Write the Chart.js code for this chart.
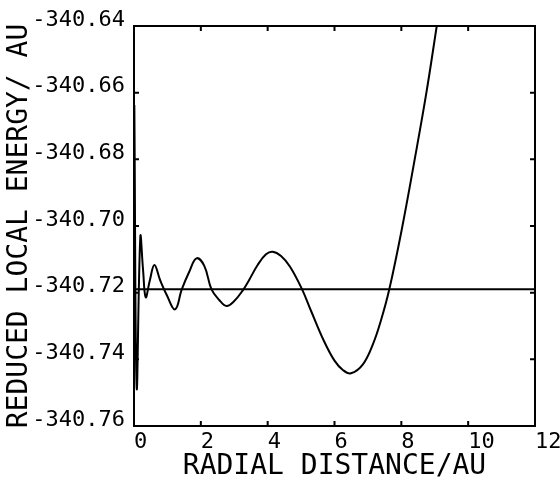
<!DOCTYPE html>
<html>
<head>
<meta charset="utf-8">
<script src="https://cdn.jsdelivr.net/npm/chart.js@4/dist/chart.umd.min.js"></script>
<style>
  html, body { margin: 0; padding: 0; background: #fff; }
  #wrap { width: 560px; height: 482px; }
</style>
</head>
<body>
<div id="wrap"><canvas id="c" width="560" height="482"></canvas></div>
<script>
// Data
const radialDistance = [0.01, 0.08, 0.19, 0.27, 0.35, 0.47, 0.61, 0.78, 0.98, 1.23, 1.43, 1.65, 1.87, 2.10, 2.32, 2.55, 2.77, 3.00, 3.25, 3.45, 3.70, 3.95, 4.15, 4.40, 4.67, 5.02, 5.30, 5.67, 6.00, 6.25, 6.49, 6.85, 7.16, 7.40, 7.64, 8.01, 8.40, 8.75, 9.06];
const localEnergy = [-340.6637, -340.7485, -340.7032, -340.7130, -340.7214, -340.7165, -340.7117, -340.7162, -340.7207, -340.7250, -340.7190, -340.7138, -340.7097, -340.7119, -340.7190, -340.7222, -340.7240, -340.7225, -340.7194, -340.7161, -340.7117, -340.7085, -340.7077, -340.7090, -340.7122, -340.7188, -340.7255, -340.7342, -340.7404, -340.7432, -340.7442, -340.7415, -340.7352, -340.7280, -340.7190, -340.7012, -340.6800, -340.6600, -340.6400];
const referenceX = [0, 12];
const referenceEnergy = [-340.719, -340.719];
const xTicks = [0, 2, 4, 6, 8, 10, 12];
const yTicks = [-340.76, -340.74, -340.72, -340.70, -340.68, -340.66, -340.64];

const curveData = radialDistance.map((x, i) => ({x: x, y: localEnergy[i]}));
const refData = referenceX.map((x, i) => ({x: x, y: referenceEnergy[i]}));

const FONT = "'DejaVu Sans Mono', monospace";

const framePlugin = {
  id: 'frame',
  afterDatasetsDraw(chart) {
    const {ctx, chartArea: a, scales} = chart;
    ctx.save();
    ctx.strokeStyle = '#000';
    ctx.lineWidth = 2;
    ctx.strokeRect(a.left, a.top, a.right - a.left, a.bottom - a.top);
    const len = 5;
    ctx.beginPath();
    xTicks.forEach(v => {
      const px = scales.x.getPixelForValue(v);
      ctx.moveTo(px, a.bottom); ctx.lineTo(px, a.bottom - len);
      ctx.moveTo(px, a.top); ctx.lineTo(px, a.top + len);
    });
    yTicks.forEach(v => {
      const py = scales.y.getPixelForValue(v);
      ctx.moveTo(a.left, py); ctx.lineTo(a.left + len, py);
      ctx.moveTo(a.right, py); ctx.lineTo(a.right - len, py);
    });
    ctx.stroke();
    ctx.restore();
  }
};

new Chart(document.getElementById('c'), {
  type: 'scatter',
  data: {
    datasets: [
      {
        data: curveData,
        showLine: true,
        borderColor: '#000',
        borderWidth: 2,
        pointRadius: 0,
        tension: 0.4,
        fill: false
      },
      {
        data: refData,
        showLine: true,
        borderColor: '#000',
        borderWidth: 2,
        pointRadius: 0,
        fill: false
      }
    ]
  },
  options: {
    responsive: false,
    animation: false,
    devicePixelRatio: 1,
    layout: { padding: { top: 26, right: 25, left: 0, bottom: 0 } },
    plugins: { legend: { display: false }, tooltip: { enabled: false } },
    scales: {
      x: {
        type: 'linear',
        min: 0, max: 12,
        afterFit(s) { s.height = 56; s.paddingLeft = 0; s.paddingRight = 0; },
        afterBuildTicks(s) { s.ticks = xTicks.map(v => ({value: v})); },
        grid: { display: false, drawTicks: false },
        border: { display: false },
        ticks: {
          color: '#000',
          font: { family: FONT, size: 22 },
          padding: 3,
          align: 'start',
          maxRotation: 0,
          autoSkip: false,
          callback: v => String(v)
        },
        title: {
          display: true,
          text: 'RADIAL DISTANCE/AU',
          color: '#000',
          font: { family: FONT, size: 28, lineHeight: 1.0 },
          padding: { top: 0, bottom: 1 }
        }
      },
      y: {
        type: 'linear',
        min: -340.76, max: -340.64,
        afterFit(s) { s.width = 134; },
        afterBuildTicks(s) { s.ticks = yTicks.map(v => ({value: v})); },
        grid: { display: false, drawTicks: false },
        border: { display: false },
        ticks: {
          color: '#000',
          font: { family: FONT, size: 22 },
          padding: 9,
          labelOffset: -6,
          autoSkip: false,
          callback: v => v.toFixed(2)
        },
        title: {
          display: true,
          text: 'REDUCED LOCAL ENERGY/ AU',
          color: '#000',
          font: { family: FONT, size: 28, lineHeight: 1.0 },
          padding: { top: 6, bottom: 0 }
        }
      }
    }
  },
  plugins: [framePlugin]
});
</script>
</body>
</html>
